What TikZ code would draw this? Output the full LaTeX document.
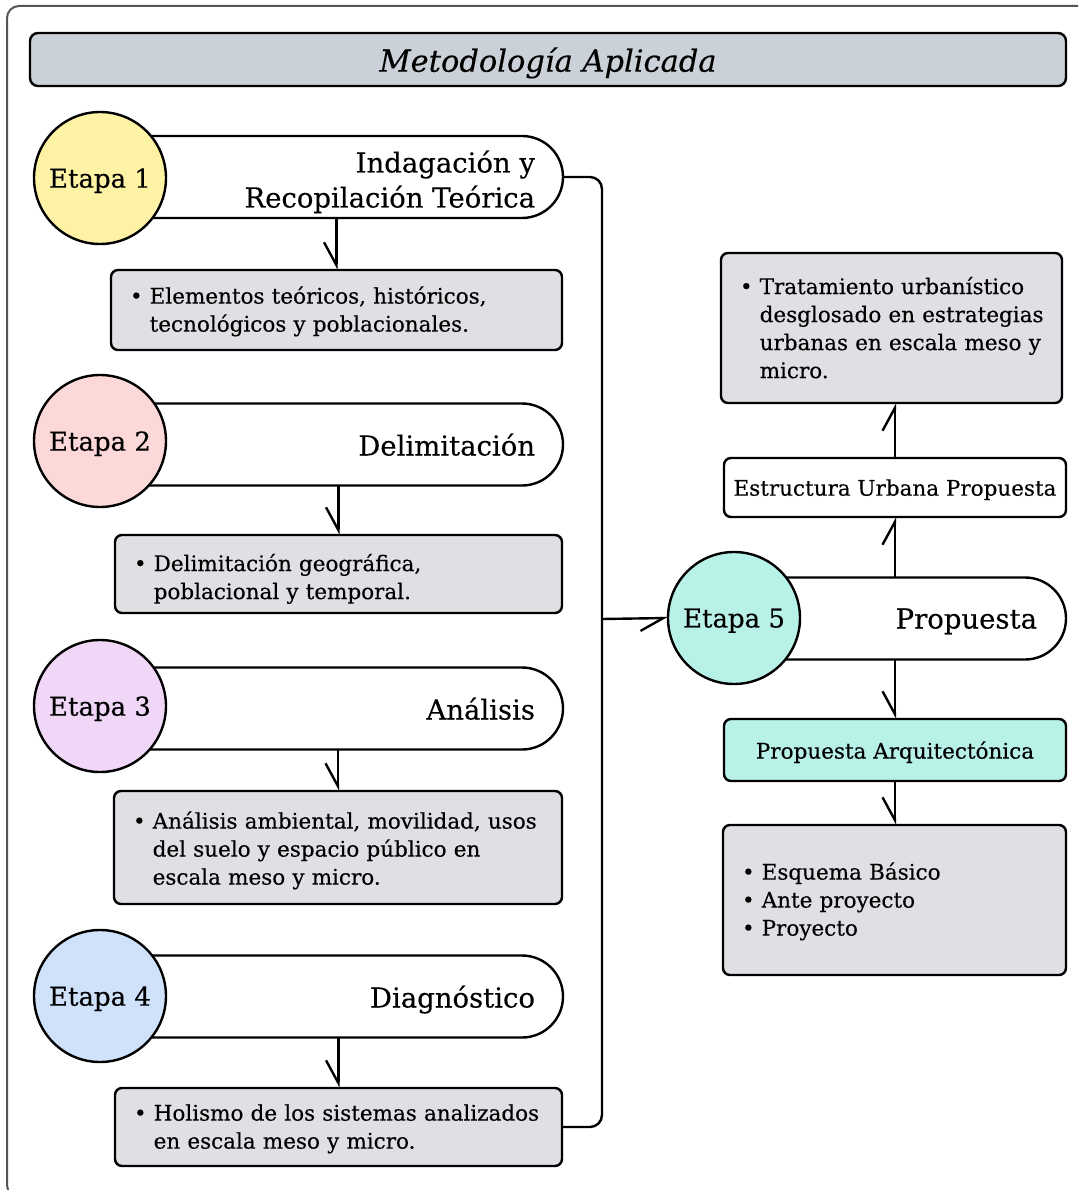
\documentclass[tikz,border=0pt]{standalone}
\usepackage{fontspec}
\setmainfont{DejaVu Serif}[FakeBold=0.3]
\usetikzlibrary{arrows.meta,shapes.misc}

\definecolor{titlefill}{HTML}{CBD1D8}
\definecolor{boxfill}{HTML}{DFE0E4}
\definecolor{stageA}{HTML}{FEF3A4}
\definecolor{stageB}{HTML}{FCD9D8}
\definecolor{stageC}{HTML}{F0D7F7}
\definecolor{stageD}{HTML}{CFE2FA}
\definecolor{stageE}{HTML}{B8F1E8}
\definecolor{framegray}{HTML}{555555}

% bullet list set in two columns: bullet, then the hanging text;
% the optional argument lowers the block without changing its extent
\newcommand{\blist}[2][3pt]{\raisebox{-#1}[\height][\depth]{%
  \begin{tabular}{@{}l@{\hspace{7pt}}l@{}}#2\end{tabular}}}

\tikzset{
  x=1pt, y=-1pt,
  every node/.style={outer sep=0pt},
  etapa/.style={circle, draw, line width=2.4pt, minimum size=132pt, inner sep=0pt,
    text depth=0pt, font=\fontsize{26}{31}\selectfont},
  stadium/.style={rounded rectangle, rounded rectangle west arc=none, draw, fill=white,
    line width=2.4pt, minimum height=82pt, inner sep=0pt},
  stadtext/.style={anchor=east, align=right, inner sep=0pt, text depth=0pt,
    font=\fontsize{27.5}{35}\selectfont},
  infobox/.style={draw, fill=boxfill, line width=2.4pt, rounded corners=7pt,
    inner xsep=19pt, inner ysep=0pt, align=left, font=\fontsize{21.5}{28}\selectfont},
  labelbox/.style={draw, line width=2.4pt, rounded corners=7pt, inner sep=0pt,
    text depth=0pt, font=\fontsize{21.5}{28}\selectfont},
  link/.style={line width=2.4pt},
  barbR/.style={link, -{Straight Barb[harpoon, swap, length=23pt, width=25pt]}},
  barbL/.style={link, -{Straight Barb[harpoon, length=23pt, width=25pt]}},
}

\begin{document}
\begin{tikzpicture}
\useasboundingbox (0,0) rectangle (1078,1190);
\clip (0,0) rectangle (1078,1190);

% outer frame
\draw[framegray, line width=2pt, rounded corners=12pt] (7,6) rectangle (1098,1197);

% heading
\node[draw, fill=titlefill, line width=2.4pt, rounded corners=8pt, minimum width=1036pt,
  minimum height=53pt, inner sep=0pt, text depth=0pt,
  font=\fontsize{30.5}{36}\selectfont\itshape]
  (title) at (548,59.5) {Metodología Aplicada};

% ---- stage 1
\node[stadium, minimum width=463pt] (s1) at (331.5,177) {};
\node[etapa, fill=stageA] (e1) at (100,178) {Etapa 1};
\node[stadtext] (t1) at ([xshift=-28pt,yshift=-2pt]s1.east)
  {Indagación y\\Recopilación Teórica};
\node[infobox, text width=413pt, minimum height=80pt] (b1) at (336.5,310)
  {\blist[2pt]{\textbullet & Elementos teóricos, históricos,\\ & tecnológicos y poblacionales.}};

% ---- stage 2
\node[stadium, minimum width=463pt] (s2) at (331.5,444.5) {};
\node[etapa, fill=stageB] (e2) at (100,441) {Etapa 2};
\node[stadtext] (t2) at ([xshift=-28pt]s2.east) {Delimitación};
\node[infobox, text width=409pt, minimum height=78pt] (b2) at (338.5,574)
  {\blist[5.5pt]{\textbullet & Delimitación geográfica,\\ & poblacional y temporal.}};

% ---- stage 3
\node[stadium, minimum width=463pt] (s3) at (331.5,708.5) {};
\node[etapa, fill=stageC] (e3) at (100,706) {Etapa 3};
\node[stadtext] (t3) at ([xshift=-28pt]s3.east) {Análisis};
\node[infobox, text width=410pt, minimum height=113pt] (b3) at (338,847.5)
  {\blist[3.5pt]{\textbullet & Análisis ambiental, movilidad, usos\\ & del suelo y espacio público en\\ & escala meso y micro.}};

% ---- stage 4
\node[stadium, minimum width=463pt] (s4) at (331.5,996.5) {};
\node[etapa, fill=stageD] (e4) at (100,996) {Etapa 4};
\node[stadtext] (t4) at ([xshift=-28pt]s4.east) {Diagnóstico};
\node[infobox, text width=409pt, minimum height=78pt] (b4) at (338.5,1127)
  {\blist[2pt]{\textbullet & Holismo de los sistemas analizados\\ & en escala meso y micro.}};

% ---- stage 5
\node[stadium, minimum width=332pt] (s5) at (900,618.5) {};
\node[etapa, fill=stageE] (e5) at (734,618) {Etapa 5};
\node[stadtext] (t5) at ([xshift=-29pt]s5.east) {Propuesta};

\node[infobox, text width=303pt, minimum height=150pt] (urb) at (891.5,328)
  {\blist[2.5pt]{\textbullet & Tratamiento urbanístico\\ & desglosado en estrategias\\ & urbanas en escala meso y\\ & micro.}};
\node[labelbox, fill=white, minimum width=342pt, minimum height=59pt] (est) at (895,487.5)
  {Estructura Urbana Propuesta};
\node[labelbox, fill=stageE, minimum width=342pt, minimum height=62pt] (arq) at (895,750)
  {Propuesta Arquitectónica};
\node[infobox, text width=305pt, minimum height=150pt] (fin) at (894.5,900)
  {\blist[2pt]{\textbullet & Esquema Básico\\ \textbullet & Ante proyecto\\ \textbullet & Proyecto}};

% ---- connectors
\coordinate (bus) at (602,619);
\draw[link, rounded corners=12pt] (s1.east) -| (bus);
\draw[link, rounded corners=12pt] (b4.east) -| (bus);
\draw[barbR] (bus) -- (e5.west);

\draw[barbR] (b1.north |- s1.south) -- (b1.north);
\draw[barbR] (b2.north |- s2.south) -- (b2.north);
\draw[barbR] (b3.north |- s3.south) -- (b3.north);
\draw[barbR] (b4.north |- s4.south) -- (b4.north);

\draw[barbL] (est.south |- s5.north) -- (est.south);
\draw[barbL] (est.north) -- (est.north |- urb.south);
\draw[barbR] (arq.north |- s5.south) -- (arq.north);
\draw[barbR] (arq.south) -- (arq.south |- fin.north);
\end{tikzpicture}
\end{document}
